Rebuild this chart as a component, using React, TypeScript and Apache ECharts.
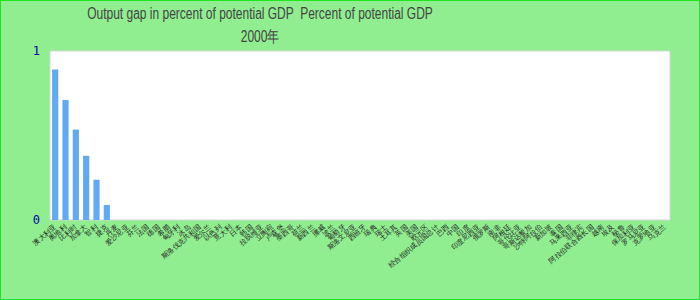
import React, { useEffect, useRef } from "react";
import * as echarts from "echarts";

const TITLE = "Output gap in percent of potential GDP  Percent of potential GDP";
const SUBTITLE = "2000年";

const categories: string[] = [
  "澳大利亚", "奥地利", "比利时", "加拿大", "智利", "捷克", "丹麦", "爱沙尼亚", "芬兰", "法国",
  "德国", "希腊", "匈牙利", "冰岛", "斯洛伐克共和国", "爱尔兰", "以色列", "意大利", "日本", "韩国",
  "拉脱维亚", "立陶宛", "卢森堡", "墨西哥", "荷兰", "新西兰", "挪威", "波兰", "葡萄牙", "斯洛文尼亚",
  "西班牙", "瑞典", "瑞士", "土耳其", "英国", "美国", "欧元区", "经合组织成员国总计", "巴西", "中国",
  "印度", "印度尼西亚", "俄罗斯", "南非", "阿根廷", "哥伦比亚", "哥斯达黎加", "沙特阿拉伯", "新加坡", "泰国",
  "马来西亚", "菲律宾", "阿拉伯联合酋长国", "越南", "埃及", "秘鲁", "保加利亚", "罗马尼亚", "克罗地亚", "乌克兰",
];

const values: number[] = [
  0.89, 0.71, 0.535, 0.38, 0.238, 0.089, 0, 0, 0, 0,
  0, 0, 0, 0, 0, 0, 0, 0, 0, 0,
  0, 0, 0, 0, 0, 0, 0, 0, 0, 0,
  0, 0, 0, 0, 0, 0, 0, 0, 0, 0,
  0, 0, 0, 0, 0, 0, 0, 0, 0, 0,
  0, 0, 0, 0, 0, 0, 0, 0, 0, 0,
];

const yTicks = [0, 1];

export default function App() {
  const ref = useRef<HTMLDivElement>(null);

  useEffect(() => {
    document.body.style.margin = "0";
    if (!ref.current) return;
    const chart = echarts.init(ref.current, null, { renderer: "svg" });
    chart.setOption({
      animation: false,
      backgroundColor: "#90EE90",
      graphic: [
        {
          type: "text",
          x: 260,
          y: 13,
          scaleX: 0.75,
          style: {
            text: TITLE,
            fontFamily: "Liberation Sans",
            fontSize: 16,
            fill: "#444",
            textAlign: "center",
            textVerticalAlign: "middle",
          },
        },
        {
          type: "text",
          x: 260,
          y: 36.5,
          scaleX: 0.75,
          style: {
            text: SUBTITLE,
            fontFamily: "Liberation Sans",
            fontSize: 16,
            fill: "#444",
            textAlign: "center",
            textVerticalAlign: "middle",
          },
        },
      ],
      grid: {
        left: 50,
        right: 30,
        top: 51,
        bottom: 80,
        show: true,
        backgroundColor: "#ffffff",
        borderColor: "#d6d6d6",
        borderWidth: 1,
      },
      xAxis: {
        type: "category",
        data: categories,
        axisLine: { show: false },
        axisTick: { show: false },
        axisLabel: {
          interval: 0,
          rotate: 40,
          fontSize: 7,
          margin: 6,
          color: "#222",
        },
      },
      yAxis: {
        type: "value",
        min: yTicks[0],
        max: yTicks[yTicks.length - 1],
        interval: 1,
        splitLine: { show: false },
        axisLine: { show: false },
        axisTick: { show: false },
        axisLabel: {
          fontFamily: "DejaVu Sans Mono",
          fontSize: 12,
          color: "#0000a8",
          margin: 10,
        },
      },
      series: [
        {
          type: "bar",
          data: values,
          barWidth: "60%",
          itemStyle: { color: "#62a9f3" },
        },
      ],
    });
    return () => chart.dispose();
  }, []);

  return (
    <div style={{ position: "relative", width: 700, height: 300 }}>
      <div ref={ref} style={{ width: 700, height: 300 }} />
      <div
        style={{
          position: "absolute",
          left: 0,
          top: 0,
          width: 700,
          height: 300,
          boxSizing: "border-box",
          border: "1px solid #1fe61f",
          pointerEvents: "none",
        }}
      />
    </div>
  );
}
